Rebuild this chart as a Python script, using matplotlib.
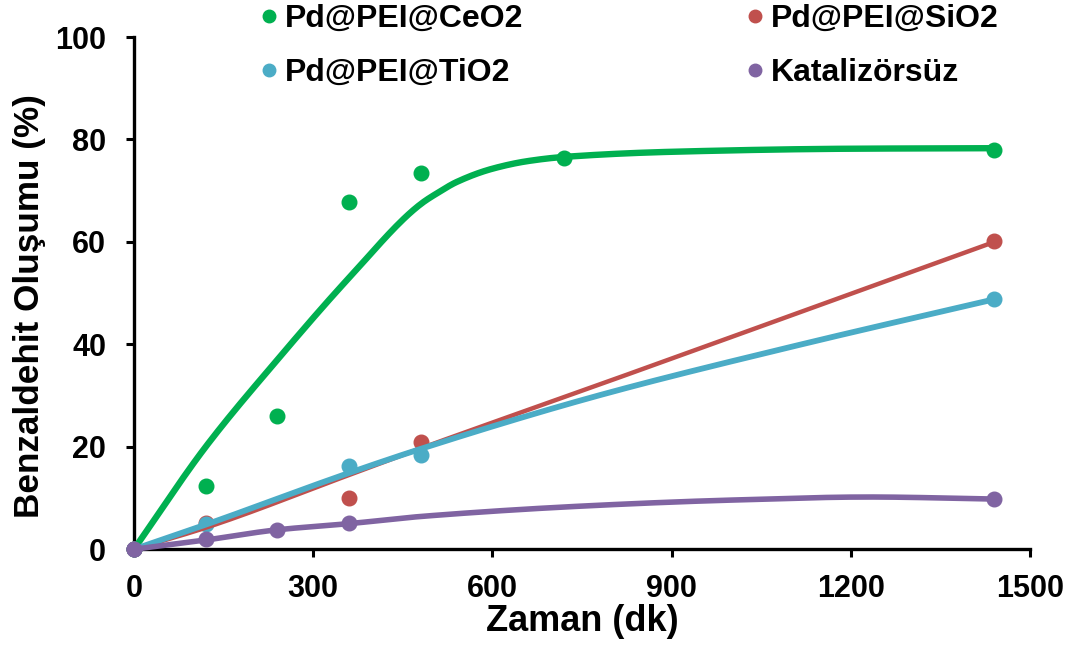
"""
Benzaldehit oluşumu - zamana göre (Pd@PEI katalizörleri)
"""

import numpy as np
import matplotlib
matplotlib.use("Agg")
import matplotlib.pyplot as plt
from matplotlib.lines import Line2D

plt.rcParams["font.family"] = ["Liberation Sans", "DejaVu Sans"]
plt.rcParams["font.weight"] = "bold"

# ---------------------------------------------------------------------------
# Deney noktaları (dk, %)
# ---------------------------------------------------------------------------
ceo2_t = [0, 120, 240, 360, 480, 720, 1440]
ceo2_y = [0, 12.4, 26.0, 67.8, 73.4, 76.4, 78.0]

sio2_t = [0, 120, 360, 480, 1440]
sio2_y = [0, 5.1, 10.0, 20.9, 60.2]

tio2_t = [0, 120, 360, 480, 1440]
tio2_y = [0, 5.0, 16.2, 18.4, 48.9]

kat_t = [0, 120, 240, 360, 1440]
kat_y = [0, 2.0, 3.8, 5.1, 9.9]

# Eğri (trend) değerleri
ceo2_fit_t = [0, 120, 240, 360, 480, 510, 540, 600, 660, 720, 900, 1200, 1440]
ceo2_fit_y = [0, 20.0, 37.0, 53.0, 67.4, 69.7, 71.7, 74.3, 75.8, 76.6,
              77.6, 78.2, 78.3]

sio2_fit_t = [0, 120, 360, 480, 780, 1440]
sio2_fit_y = [0, 4.2, 14.5, 19.7, 32.2, 60.0]

tio2_fit_t = [0, 120, 360, 480, 780, 1110, 1440]
tio2_fit_y = [0, 4.8, 14.9, 19.6, 30.1, 39.8, 48.8]

kat_fit_t = [0, 120, 240, 360, 480, 780, 1000, 1230, 1440]
kat_fit_y = [0, 1.8, 3.8, 5.0, 6.4, 8.6, 9.6, 10.2, 9.8]

GREEN = "#00B050"
RED = "#C0504D"
BLUE = "#4BACC6"
PURPLE = "#8064A2"


def monotone_curve(xs, ys, n=30):
    """Courbe lisse (Hermite monotone, Fritsch-Carlson) passant par les points."""
    xs = np.asarray(xs, float)
    ys = np.asarray(ys, float)
    h = np.diff(xs)
    d = np.diff(ys) / h
    m = np.zeros_like(ys)
    m[0], m[-1] = d[0], d[-1]
    for k in range(1, len(xs) - 1):
        if d[k - 1] * d[k] <= 0:
            m[k] = 0.0
        else:
            w1 = 2 * h[k] + h[k - 1]
            w2 = h[k] + 2 * h[k - 1]
            m[k] = (w1 + w2) / (w1 / d[k - 1] + w2 / d[k])
    out_x, out_y = [], []
    for k in range(len(xs) - 1):
        s = np.linspace(0, 1, n)
        h00 = 2 * s ** 3 - 3 * s ** 2 + 1
        h10 = s ** 3 - 2 * s ** 2 + s
        h01 = -2 * s ** 3 + 3 * s ** 2
        h11 = s ** 3 - s ** 2
        out_x.extend(xs[k] + s * h[k])
        out_y.extend(h00 * ys[k] + h10 * h[k] * m[k]
                     + h01 * ys[k + 1] + h11 * h[k] * m[k + 1])
    return np.array(out_x), np.array(out_y)


fig = plt.figure(figsize=(10.72, 6.5), dpi=100)
ax = fig.add_axes([0.125, 0.155, 0.836, 0.788])

series = [
    (ceo2_t, ceo2_y, ceo2_fit_t, ceo2_fit_y, GREEN, 4.6),
    (sio2_t, sio2_y, sio2_fit_t, sio2_fit_y, RED, 3.2),
    (tio2_t, tio2_y, tio2_fit_t, tio2_fit_y, BLUE, 4.2),
    (kat_t, kat_y, kat_fit_t, kat_fit_y, PURPLE, 4.0),
]

for t, y, ft, fy, col, lw in series:
    ax.plot(t, y, "o", color=col, markersize=10.5, clip_on=False, zorder=3)
for t, y, ft, fy, col, lw in series:
    sx, sy = monotone_curve(ft, fy)
    ax.plot(sx, sy, "-", color=col, linewidth=lw, clip_on=False,
            solid_capstyle="round", zorder=4)

# origine : le point violet passe au-dessus de tout
ax.plot(kat_t[:1], kat_y[:1], "o", color=PURPLE, markersize=10.5,
        clip_on=False, zorder=5)

ax.set_xlim(0, 1500)
ax.set_ylim(0, 100)
ax.set_xticks([0, 300, 600, 900, 1200, 1500])
ax.set_yticks([0, 20, 40, 60, 80, 100])

for side in ("top", "right"):
    ax.spines[side].set_visible(False)
for side in ("left", "bottom"):
    ax.spines[side].set_linewidth(2.4)

ax.tick_params(direction="out", length=6, width=2.2, labelsize=22)
ax.tick_params(axis="x", pad=12)
ax.tick_params(axis="y", pad=14)
for lab in ax.get_xticklabels() + ax.get_yticklabels():
    lab.set_fontweight("bold")

ax.set_xlabel("Zaman (dk)", fontsize=26, fontweight="bold", labelpad=0)
ax.set_ylabel("Benzaldehit Oluşumu (%)", fontsize=25.3, fontweight="bold")
ax.yaxis.set_label_coords(-0.098, 0.475)

handles = [
    Line2D([], [], marker="o", linestyle="none", color=GREEN, markersize=9),
    Line2D([], [], marker="o", linestyle="none", color=BLUE, markersize=9),
    Line2D([], [], marker="o", linestyle="none", color=RED, markersize=9),
    Line2D([], [], marker="o", linestyle="none", color=PURPLE, markersize=9),
]
labels = ["Pd@PEI@CeO2", "Pd@PEI@TiO2", "Pd@PEI@SiO2", "Katalizörsüz"]
leg = fig.legend(handles, labels, ncol=2, loc="upper left",
                 bbox_to_anchor=(0.236, 0.994), frameon=False,
                 prop={"size": 23, "weight": "bold"},
                 borderpad=0, borderaxespad=0,
                 handletextpad=0.0, handlelength=1.0,
                 columnspacing=6.74, labelspacing=0.76)

fig.savefig("out.png", dpi=100)
